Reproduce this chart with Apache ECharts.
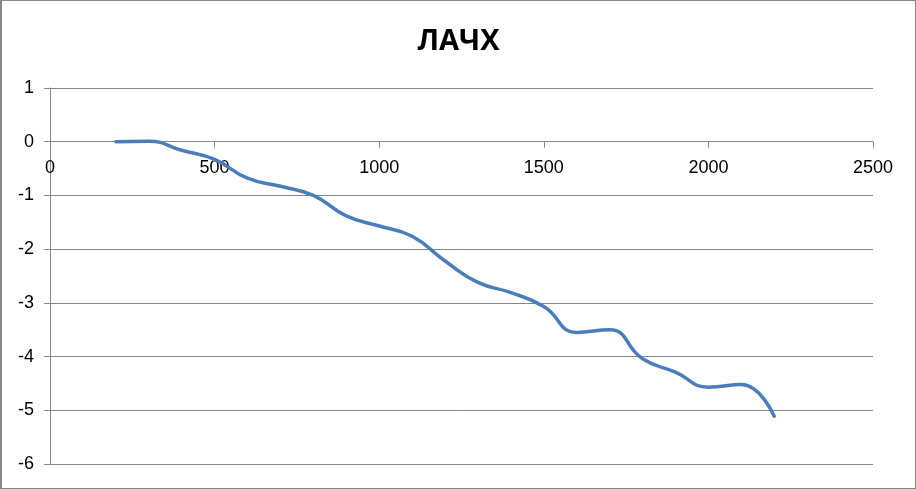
<!DOCTYPE html>
<html><head><meta charset="utf-8">
<script src="https://cdn.jsdelivr.net/npm/echarts@6/dist/echarts.min.js"></script>
<style>
html,body{margin:0;padding:0;background:#fff;}
#c{width:916px;height:489px;box-sizing:border-box;border:1px solid #868686;border-left-width:2px;}
</style></head>
<body><div id="c"></div>
<script>
const titleText = 'ЛАЧХ';
const freq = [200,300,400,500,600,700,800,900,1000,1100,1200,1300,1400,1500,1600,1700,1800,1900,2000,2100,2200];
const gain = [0,0.01,-0.16,-0.33,-0.68,-0.83,-1.0,-1.38,-1.57,-1.76,-2.22,-2.62,-2.81,-3.07,-3.55,-3.50,-4.04,-4.29,-4.57,-4.52,-5.11];
const xTicks = {min:0, max:2500, step:500};
const yTicks = {min:-6, max:1, step:1};

const gridTop = 87, gridBottom = 24, H = 489;
// x axis sits on the y = 0 line: shift it up from the grid bottom by the zero line's distance
const gridH = H - 2 - gridTop - gridBottom;
const zeroOffset = -gridH * (0 - yTicks.min) / (yTicks.max - yTicks.min);

const chart = echarts.init(document.getElementById('c'), null, {renderer:'canvas'});
const font = 'Liberation Sans, Arial, sans-serif';
chart.setOption({
  animation:false,
  title:{text:titleText,left:'center',top:21,textStyle:{fontFamily:'Open Sans, Liberation Sans, sans-serif',fontWeight:'bold',fontSize:29,color:'#000'}},
  grid:{left:48,right:42,top:gridTop,bottom:gridBottom,containLabel:false},
  xAxis:{type:'value',min:xTicks.min,max:xTicks.max,interval:xTicks.step,position:'bottom',offset:zeroOffset,
    axisLine:{onZero:false,lineStyle:{color:'#868686',width:1}},
    axisTick:{show:true,length:6,inside:false,lineStyle:{color:'#868686'}},
    axisLabel:{color:'#000',fontSize:18,fontFamily:font,margin:17,showMaxLabel:true,showMinLabel:true,formatter:v=>String(v)},
    splitLine:{show:false}},
  yAxis:{type:'value',min:yTicks.min,max:yTicks.max,interval:yTicks.step,
    axisLine:{show:true,lineStyle:{color:'#868686',width:1}},
    axisTick:{show:true,length:6,lineStyle:{color:'#868686'}},
    axisLabel:{color:'#000',fontSize:18,fontFamily:font,margin:16,formatter:v=>String(v)},
    splitLine:{show:true,lineStyle:{color:'#868686',width:1}}},
  series:[{type:'line',data:freq.map((f,i)=>[f,gain[i]]),smooth:0.5,showSymbol:false,
    lineStyle:{color:'#4A7EBB',width:3.5,cap:'round'}}]
});
</script></body></html>
